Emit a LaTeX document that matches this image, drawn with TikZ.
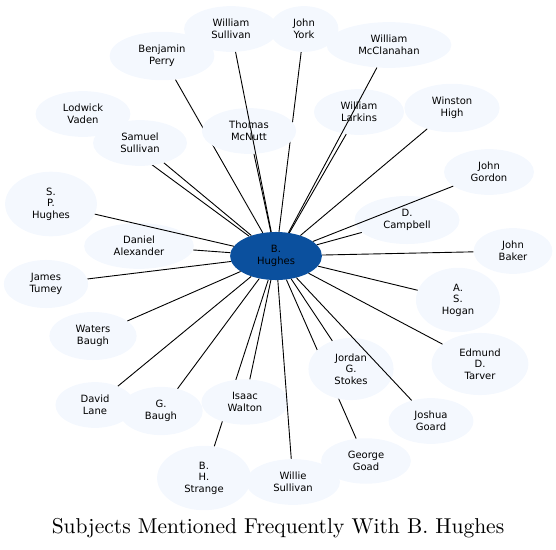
\documentclass[tikz,border=0pt]{standalone}
\usepackage{fontspec}
\newfontfamily\labelfont{DejaVu Sans}
\usetikzlibrary{shapes.geometric,backgrounds}
\definecolor{hubblue}{RGB}{11,80,158}
\definecolor{pale}{RGB}{244,248,254}

\begin{document}
\begin{tikzpicture}[x=1pt, y=-1pt,
  subj/.style={ellipse, fill=pale, inner xsep=13.5pt, inner ysep=6.5pt, align=center, font=\labelfont\fontsize{10}{11.6}\selectfont},
  hub/.style={subj, fill=hubblue},
  link/.style={line width=0.9pt},
  ttl/.style={font=\fontsize{10}{12}\selectfont, scale=2.15, transform shape, anchor=base}]
\useasboundingbox (0,0) rectangle (556,549);
% Centre
\node[hub] (hughes) at (276,256) {B.\\Hughes};
% Upper half
\node[subj] (wsull) at (231,29) {William\\Sullivan};
\node[subj] (jyork) at (304,29) {John\\York};
\node[subj] (bperry) at (162,56) {Benjamin\\Perry};
\node[subj] (wmcclan) at (389,45) {William\\McClanahan};
\node[subj] (lvaden) at (83,114) {Lodwick\\Vaden};
\node[subj] (ssull) at (140,143) {Samuel\\Sullivan};
\node[subj] (tmcnutt) at (249,131) {Thomas\\McNutt};
\node[subj] (wlarkins) at (359,112) {William\\Larkins};
\node[subj] (whigh) at (452,108) {Winston\\High};
\node[subj] (jgordon) at (489,172) {John\\Gordon};
\node[subj] (sphughes) at (51,204) {S.\\P.\\Hughes};
\node[subj] (dcampbell) at (407,220) {D.\\Campbell};
\node[subj] (dalex) at (139,246) {Daniel\\Alexander};
\node[subj] (jbaker) at (513,251) {John\\Baker};
% Lower half
\node[subj] (jtumey) at (46,284) {James\\Tumey};
\node[subj] (ashogan) at (458,300) {A.\\S.\\Hogan};
\node[subj] (wbaugh) at (93,336) {Waters\\Baugh};
\node[subj] (edtarver) at (480,364) {Edmund\\D.\\Tarver};
\node[subj] (jgstokes) at (351,369) {Jordan\\G.\\Stokes};
\node[subj] (dlane) at (95,405) {David\\Lane};
\node[subj] (gbaugh) at (161,411) {G.\\Baugh};
\node[subj] (iwalton) at (245,402) {Isaac\\Walton};
\node[subj] (jgoard) at (431,421) {Joshua\\Goard};
\node[subj] (ggoad) at (366,461) {George\\Goad};
\node[subj] (bhstrange) at (204,478) {B.\\H.\\Strange};
\node[subj] (wisull) at (293,482) {Willie\\Sullivan};
% Links hidden behind other subjects
\begin{pgfonlayer}{background}
\foreach \s in {bperry,jyork,lvaden,ggoad,bhstrange}
  \draw[link] (hughes) -- (\s);
\end{pgfonlayer}
% Links on top
\foreach \s in {wsull,wmcclan,ssull,tmcnutt,wlarkins,whigh,jgordon,sphughes,dcampbell,dalex,jbaker,
  jtumey,ashogan,wbaugh,edtarver,jgstokes,dlane,gbaugh,iwalton,jgoard,wisull}
  \draw[link] (hughes) -- (\s);
% Title
\node[ttl] (title) at (278,533) {Subjects Mentioned Frequently With B. Hughes};
\end{tikzpicture}
\end{document}
